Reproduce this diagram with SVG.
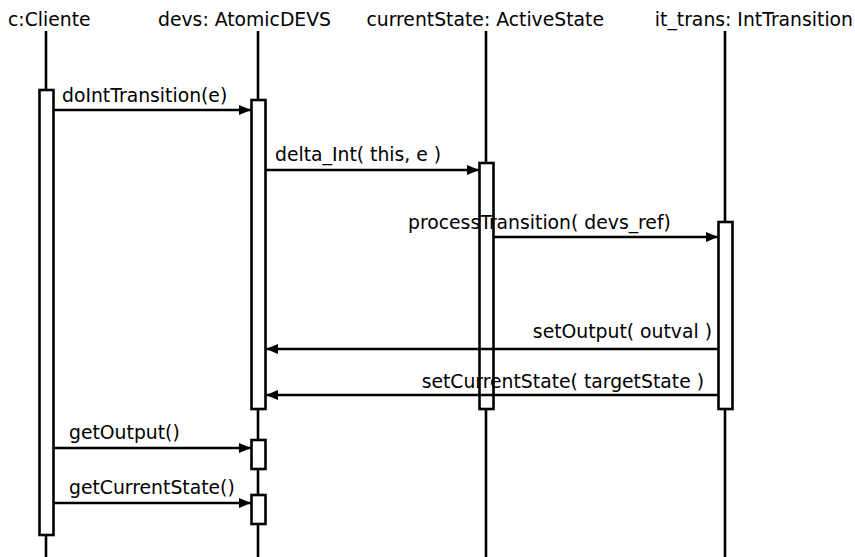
<svg xmlns="http://www.w3.org/2000/svg" width="855" height="557" viewBox="0 0 855 557">
  <style>
    text { font-family: "DejaVu Sans", "Liberation Sans", sans-serif; font-size: 18.8px; fill: #000; }
    .life { stroke: #000; stroke-width: 2.6; fill: none; }
    .act { stroke: #000; stroke-width: 2.6; fill: #fff; }
    .msg { stroke: #000; stroke-width: 2.6; fill: none; marker-end: url(#arrow); }
  </style>
  <defs>
    <marker id="arrow" viewBox="0 0 12 10" refX="12" refY="5" markerWidth="12" markerHeight="10" markerUnits="userSpaceOnUse" orient="auto">
      <path d="M0,0 L12,5 L0,10 z" fill="#000"/>
    </marker>
  </defs>

  <!-- participants: header label, lifeline and activation bars -->
  <g id="cliente">
    <text x="8" y="26">c:Cliente</text>
    <line class="life" x1="46" y1="31" x2="46" y2="557"/>
    <rect class="act" x="39.5" y="90" width="14" height="445"/>
  </g>
  <g id="devs">
    <text x="158" y="26">devs: AtomicDEVS</text>
    <line class="life" x1="258" y1="31" x2="258" y2="557"/>
    <rect class="act" x="251.5" y="100" width="14" height="309"/>
    <rect class="act" x="251.5" y="440" width="14" height="29"/>
    <rect class="act" x="251.5" y="495" width="14" height="29"/>
  </g>
  <g id="currentState">
    <text x="604" y="26" text-anchor="end">currentState: ActiveState</text>
    <line class="life" x1="486" y1="31" x2="486" y2="557"/>
    <rect class="act" x="479.5" y="163" width="14" height="246"/>
  </g>
  <g id="it_trans">
    <text x="853" y="26" text-anchor="end">it_trans: IntTransition</text>
    <line class="life" x1="725" y1="31" x2="725" y2="557"/>
    <rect class="act" x="718.5" y="222" width="14" height="187"/>
  </g>

  <!-- messages -->
  <g id="messages">
    <line class="msg" x1="53.5" y1="110" x2="251" y2="110"/>
    <text x="62" y="102">doIntTransition(e)</text>

    <line class="msg" x1="265.5" y1="170" x2="479" y2="170"/>
    <text x="275" y="161">delta_Int( this, e )</text>

    <line class="msg" x1="493.5" y1="237" x2="718" y2="237"/>
    <text x="408" y="229">processTransition( devs_ref)</text>

    <line class="msg" x1="718.5" y1="349" x2="266" y2="349"/>
    <text x="712" y="338" text-anchor="end">setOutput( outval )</text>

    <line class="msg" x1="718.5" y1="395" x2="266" y2="395"/>
    <text x="704" y="388" text-anchor="end">setCurrentState( targetState )</text>

    <line class="msg" x1="53.5" y1="448" x2="251" y2="448"/>
    <text x="69" y="439">getOutput()</text>

    <line class="msg" x1="53.5" y1="503" x2="251" y2="503"/>
    <text x="69" y="494">getCurrentState()</text>
  </g>
</svg>
